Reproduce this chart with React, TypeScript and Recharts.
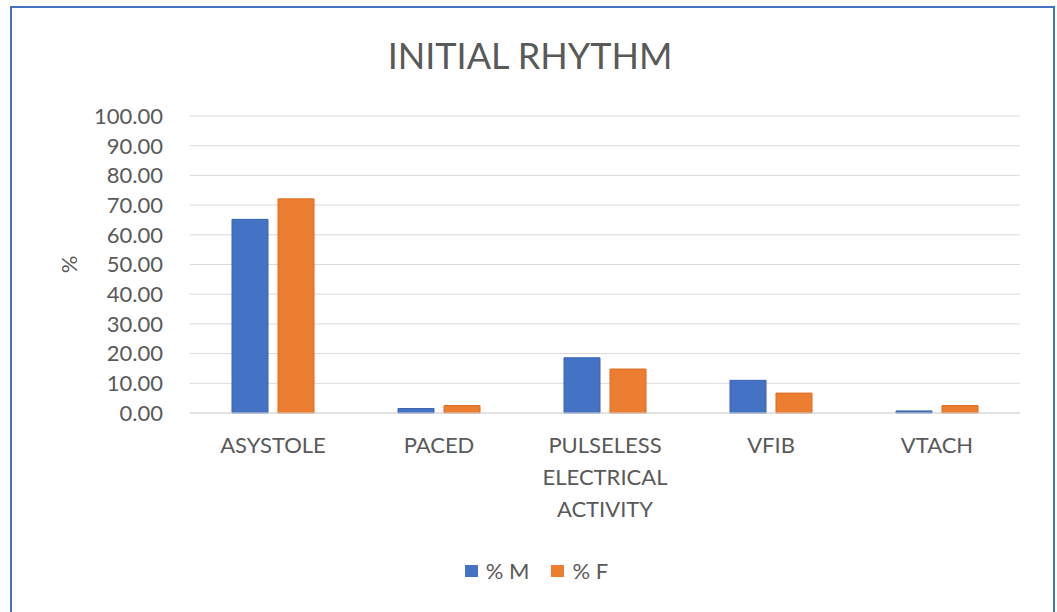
import { Bar, BarChart, CartesianGrid, Legend, XAxis, YAxis } from "recharts"

// values (percent)
const rhythms = ["ASYSTOLE", "PACED", "PULSELESS ELECTRICAL ACTIVITY", "VFIB", "VTACH"]
const malePct = [65.2, 1.5, 18.6, 11.0, 0.7]
const femalePct = [72.1, 2.5, 14.8, 6.7, 2.5]
const yTicks = [0, 10, 20, 30, 40, 50, 60, 70, 80, 90, 100]
const seriesNames = ["% M", "% F"]

const data = rhythms.map((rhythm, i) => ({
  rhythm,
  m: malePct[i],
  f: femalePct[i],
}))

const FONT = "Lato, 'Open Sans', sans-serif"
const TEXT = "#595959"

function RhythmTick(props: any) {
  const { x, y, payload } = props
  const lines = String(payload.value).split(" ")
  return (
    <text x={x} y={y} textAnchor="middle" fill={TEXT} fontSize={22} fontFamily={FONT}>
      {lines.map((line, i) => (
        <tspan key={i} x={x} dy={i === 0 ? 38 : 32}>
          {line}
        </tspan>
      ))}
    </text>
  )
}

function LegendBox(props: any) {
  const items = [...(props.payload || [])].sort(
    (a: any, b: any) => seriesNames.indexOf(a.value) - seriesNames.indexOf(b.value)
  )
  return (
    <div
      style={{
        display: "flex",
        justifyContent: "center",
        gap: 22,
        paddingLeft: 16,
        fontFamily: FONT,
        fontSize: 22,
        color: TEXT,
        lineHeight: "28px",
      }}
    >
      {items.map((it: any) => (
        <div key={it.value} style={{ display: "flex", alignItems: "center", gap: 8 }}>
          <span style={{ width: 13, height: 12, background: it.color, display: "inline-block" }} />
          <span>{it.value}</span>
        </div>
      ))}
    </div>
  )
}

export default function App() {
  return (
    <div
      style={{
        position: "absolute",
        left: 0,
        top: 0,
        width: 1057,
        height: 612,
        background: "#fff",
        overflow: "hidden",
      }}
    >
      <div
        style={{
          position: "absolute",
          left: 10,
          top: 6,
          width: 1041,
          height: 620,
          borderLeft: "2px solid #4472C4",
          borderTop: "2px solid #4472C4",
          borderRight: "2px solid #4472C4",
        }}
      />
      <div
        style={{
          position: "absolute",
          left: 0,
          width: 1060,
          top: 33,
          textAlign: "center",
          fontFamily: FONT,
          fontSize: 36,
          color: TEXT,
          lineHeight: "44px",
        }}
      >
        INITIAL RHYTHM
      </div>
      <BarChart
        width={1057}
        height={612}
        data={data}
        margin={{ top: 116, right: 37, bottom: 139, left: 0 }}
        barSize={36}
        barGap={10}
      >
        <CartesianGrid vertical={false} stroke="#D9D9D9" />
        <XAxis
          dataKey="rhythm"
          height={60}
          tickLine={false}
          tickSize={0}
          axisLine={{ stroke: "#D9D9D9" }}
          interval={0}
          tick={<RhythmTick />}
        />
        <YAxis
          width={190}
          domain={[0, 100]}
          ticks={yTicks}
          interval={0}
          tickFormatter={(v) => Number(v).toFixed(2)}
          axisLine={false}
          tickLine={false}
          tickSize={0}
          tickMargin={27}
          tick={{ fill: TEXT, fontSize: 22, fontFamily: FONT }}
          label={{
            content: ({ viewBox }: any) => (
              <text
                x={viewBox.x + 68}
                y={viewBox.y + viewBox.height / 2}
                transform={`rotate(-90 ${viewBox.x + 68} ${viewBox.y + viewBox.height / 2})`}
                textAnchor="middle"
                dominantBaseline="central"
                fill={TEXT}
                fontSize={22}
                fontFamily={FONT}
              >
                %
              </text>
            ),
          }}
        />
        <Legend
          verticalAlign="middle"
          align="center"
          wrapperStyle={{ top: 557, left: 0, width: 1057 }}
          content={<LegendBox />}
        />
        <Bar dataKey="m" name="% M" fill="#4472C4" stroke="#3A65B3" strokeWidth={1} isAnimationActive={false} />
        <Bar dataKey="f" name="% F" fill="#ED7D31" stroke="#D96C22" strokeWidth={1} isAnimationActive={false} />
      </BarChart>
    </div>
  )
}
